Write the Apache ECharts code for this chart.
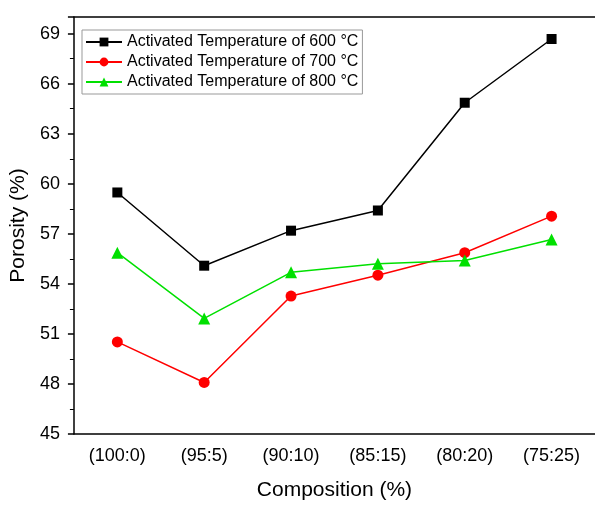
<!DOCTYPE html>
<html>
<head>
<meta charset="utf-8">
<script src="https://cdn.jsdelivr.net/npm/echarts@6/dist/echarts.min.js"></script>
<style>
  html, body { margin: 0; padding: 0; background: #fff; }
  #chart { width: 595px; height: 506px; }
</style>
</head>
<body>
<div id="chart"></div>
<script>
const compositions = ['(100:0)', '(95:5)', '(90:10)', '(85:15)', '(80:20)', '(75:25)']
const porosity600 = [59.48, 55.09, 57.19, 58.40, 64.86, 68.68]
const porosity700 = [50.52, 48.09, 53.27, 54.52, 55.87, 58.06]
const porosity800 = [55.87, 51.93, 54.69, 55.20, 55.40, 56.66]
const seriesNames = [
  'Activated Temperature of 600 °C',
  'Activated Temperature of 700 °C',
  'Activated Temperature of 800 °C',
]

const font = 'Liberation Sans, Arial, sans-serif'
const chart = echarts.init(document.getElementById('chart'))

function makeSeries(name, data, color, symbol, size) {
  return {
    name,
    type: 'line',
    data,
    symbol,
    symbolSize: size,
    lineStyle: { color, width: 1.5 },
    itemStyle: { color },
    emphasis: { disabled: true },
  }
}

chart.setOption({
  animation: false,
  grid: {
    left: 72,
    right: -3,
    top: 17,
    bottom: 65,
  },
  legend: {
    data: seriesNames,
    orient: 'vertical',
    left: 82,
    top: 30,
    itemWidth: 36,
    itemHeight: 11,
    itemGap: 4,
    padding: [4, 4, 4, 3],
    borderColor: '#999',
    borderWidth: 1,
    textStyle: { fontFamily: font, fontSize: 16, color: '#000' },
  },
  xAxis: [
    {
      type: 'category',
      data: compositions,
      name: 'Composition (%)',
      nameLocation: 'middle',
      nameGap: 46,
      nameTextStyle: { fontFamily: font, fontSize: 21, color: '#000' },
      axisLine: { lineStyle: { color: '#000', width: 1.5 } },
      axisTick: { alignWithLabel: true, length: 6, lineStyle: { color: '#000', width: 1.5 } },
      axisLabel: { fontFamily: font, fontSize: 18, color: '#000', margin: 13 },
    },
    {
      type: 'category',
      data: compositions,
      position: 'top',
      axisLine: { lineStyle: { color: '#000', width: 1.5 } },
      axisTick: { show: false },
      axisLabel: { show: false },
    },
  ],
  yAxis: {
    type: 'value',
    min: 45,
    max: 70,
    interval: 3,
    name: 'Porosity (%)',
    nameLocation: 'middle',
    nameGap: 41,
    nameTextStyle: { fontFamily: font, fontSize: 21, color: '#000' },
    axisLine: { show: true, lineStyle: { color: '#000', width: 1.5 } },
    axisTick: { show: true, length: 6, lineStyle: { color: '#000', width: 1.5 } },
    minorTick: { show: true, splitNumber: 2, length: 4, lineStyle: { color: '#000', width: 1 } },
    splitLine: { show: false },
    axisLabel: {
      fontFamily: font, fontSize: 18, color: '#000', margin: 14,
      formatter: v => (v === 70 ? '' : String(v)),
    },
  },
  series: [
    makeSeries(seriesNames[0], porosity600, '#000000', 'rect', 10),
    makeSeries(seriesNames[1], porosity700, '#ff0000', 'circle', 11),
    makeSeries(seriesNames[2], porosity800, '#00e000', 'triangle', 12),
  ],
})
</script>
</body>
</html>
